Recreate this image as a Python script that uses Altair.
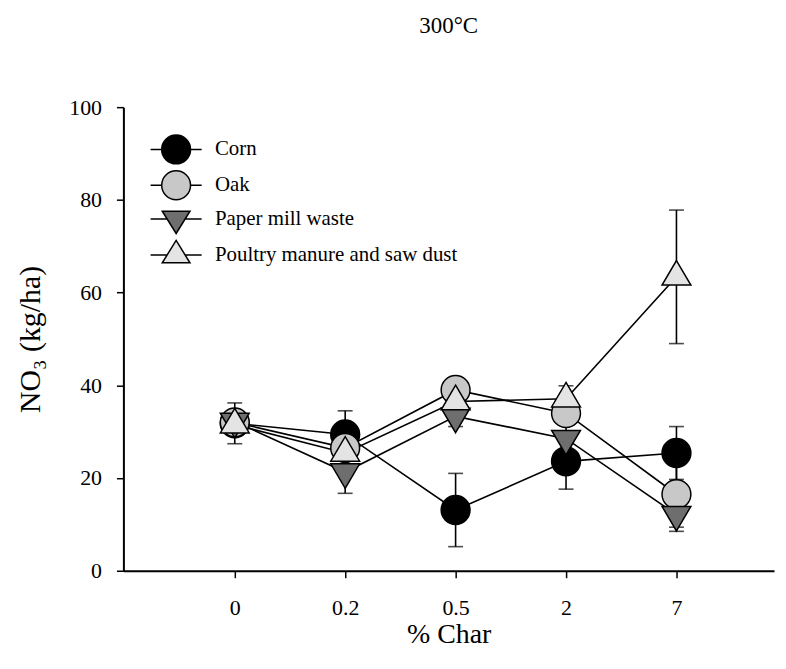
import altair as alt
import pandas as pd

# ---- data ----
char_pct = ["0", "0.2", "0.5", "2", "7"]
series_names = ["Corn", "Oak", "Paper mill waste", "Poultry manure and saw dust"]

corn = [31.8, 29.4, 13.1, 23.6, 25.4]
corn_err = [4.4, 5.1, 7.9, 6.0, 5.7]
oak = [32.0, 26.5, 39.0, 34.0, 16.5]
oak_err = [1.5, 1.5, 1.5, 1.0, 8.0]
paper = [32.2, 21.3, 33.3, 28.5, 12.1]
paper_err = [1.5, 4.6, 2.2, 5.6, 2.7]
poultry = [31.5, 25.4, 36.5, 37.1, 63.4]
poultry_err = [1.5, 1.5, 1.5, 2.8, 14.4]

# ---- styling ----
fills = ["#000000", "#c8c8c8", "#6e6e6e", "#e4e4e4"]
UP = "M0,-1.13L1,0.57L-1,0.57Z"
DOWN = "M0,1.13L1,-0.57L-1,-0.57Z"
CIRCLE = "M-1,0A1,1,0,1,0,1,0A1,1,0,1,0,-1,0Z"
marker_shapes = ["circle", "circle", DOWN, UP]
legend_shapes = [
    CIRCLE + "M-1.77,0L-1,0M1,0L1.77,0",
    CIRCLE + "M-1.77,0L-1,0M1,0L1.77,0",
    "M0,1L0.96,-0.55L-0.96,-0.55Z" + "M-1.77,0L-0.61,0M0.61,0L1.77,0",
    "M0,-1L0.96,0.55L-0.96,0.55Z" + "M-1.77,0L-0.61,0M0.61,0L1.77,0",
]
FONT = "Liberation Serif"

values = [corn, oak, paper, poultry]
errs = [corn_err, oak_err, paper_err, poultry_err]
rows = []
for si, (name, vals, ers) in enumerate(zip(series_names, values, errs)):
    for xi, (cx, v, e) in enumerate(zip(char_pct, vals, ers)):
        rows.append({"series": name, "sidx": si, "x": cx, "y": v,
                     "lo": v - e, "hi": v + e})
df = pd.DataFrame(rows)

x_enc = alt.X(
    "x:O", sort=char_pct,
    scale=alt.Scale(type="point", padding=0.946, align=0.533),
    axis=alt.Axis(title="% Char", labelAngle=0, titlePadding=2, labelPadding=20,
                  titleFontSize=28),
)
y_scale = alt.Scale(domain=[0, 100], nice=False, zero=True)
y_axis = alt.Axis(title="NO₃ (kg/ha)", values=[0, 20, 40, 60, 80, 100],
                  labelPadding=15, titlePadding=23)

base = alt.Chart(df)

lines = base.mark_line(color="black", strokeWidth=1.6).encode(
    x=x_enc,
    y=alt.Y("y:Q", scale=y_scale, axis=y_axis),
    detail="series:N",
)

err_rules = base.mark_rule(color="black", strokeWidth=1.6).encode(
    x=x_enc, y=alt.Y("lo:Q", scale=y_scale), y2="hi:Q",
)
cap_lo = base.mark_tick(color="black", thickness=1.6, size=15, orient="horizontal").encode(
    x=x_enc, y=alt.Y("lo:Q", scale=y_scale),
)
cap_hi = base.mark_tick(color="black", thickness=1.6, size=15, orient="horizontal").encode(
    x=x_enc, y=alt.Y("hi:Q", scale=y_scale),
)

points = base.mark_point(filled=True, size=841, stroke="black", strokeWidth=1.5, opacity=1).encode(
    x=x_enc,
    y=alt.Y("y:Q", scale=y_scale),
    shape=alt.Shape("series:N", sort=series_names,
                    scale=alt.Scale(domain=series_names, range=marker_shapes), legend=None),
    fill=alt.Fill("series:N", sort=series_names,
                  scale=alt.Scale(domain=series_names, range=fills), legend=None),
    order=alt.Order("sidx:Q"),
)

legend_cfg = alt.Legend(
    title=None, orient="none", legendX=37.5, legendY=27, padding=0,
    labelFont=FONT, labelFontSize=21, labelColor="black", labelOffset=23.5,
    labelLimit=500,
    rowPadding=1, symbolSize=841, symbolStrokeColor="black", symbolStrokeWidth=1.5,
    symbolOpacity=1, symbolFillColor="black",
)

legend_layer = base.mark_point(filled=True, size=841, opacity=0).encode(
    x=x_enc,
    y=alt.Y("y:Q", scale=y_scale),
    shape=alt.Shape("series:N", sort=series_names,
                    scale=alt.Scale(domain=series_names, range=legend_shapes), legend=legend_cfg),
    fill=alt.Fill("series:N", sort=series_names,
                  scale=alt.Scale(domain=series_names, range=fills), legend=legend_cfg),
)

chart = alt.layer(lines, err_rules, cap_lo, cap_hi, points, legend_layer).resolve_scale(
    shape="independent", fill="independent"
).properties(
    width=654, height=466,
    padding={"left": 116, "top": 98, "right": 4, "bottom": 80},
    autosize=alt.AutoSizeParams(type="none"),
    title=alt.Title("300°C", font=FONT, fontSize=23, fontWeight="normal",
                    anchor="middle", offset=59, color="black"),
).configure_view(stroke=None).configure_axis(
    domainColor="black", domainWidth=2, tickColor="black", tickWidth=1.5, tickSize=7,
    labelFont=FONT, labelFontSize=22, labelColor="black",
    titleFont=FONT, titleFontSize=30, titleFontWeight="normal", titleColor="black",
    grid=False,
)

chart.save("out.html", embed_options={"renderer": "svg", "actions": False})
